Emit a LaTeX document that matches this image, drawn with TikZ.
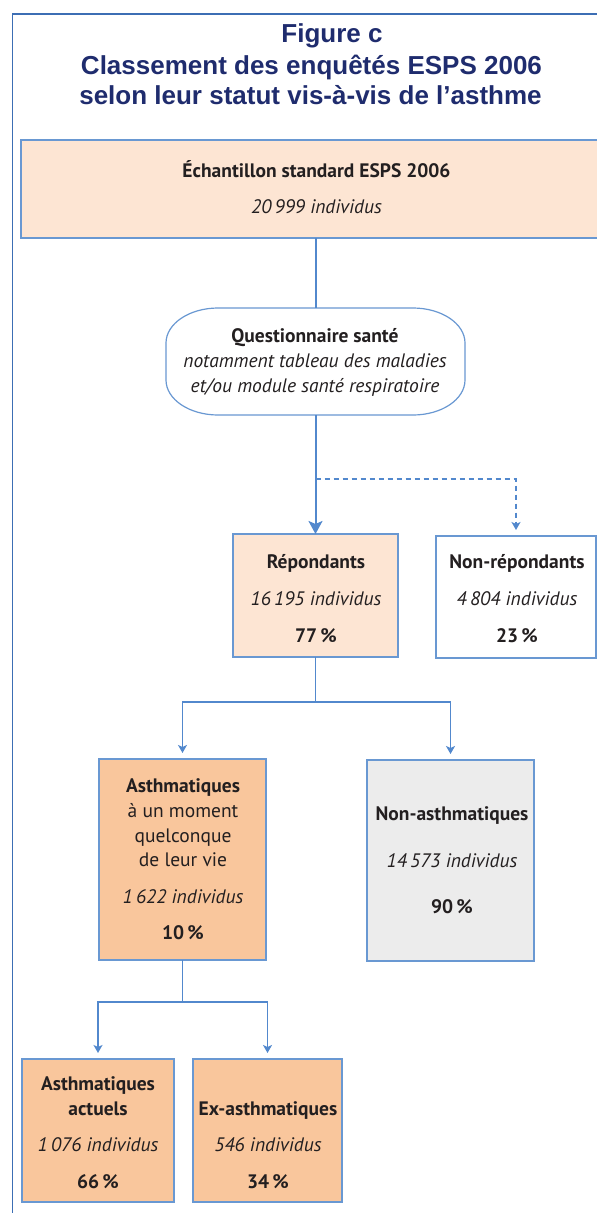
\documentclass[tikz,border=0pt]{standalone}
\usepackage{fontspec}
\setmainfont{PT Sans}
\newfontfamily\titlefont{Liberation Sans}
\usetikzlibrary{arrows.meta}
\definecolor{navy}{RGB}{31,44,110}
\definecolor{framec}{RGB}{60,110,180}
\definecolor{boxc}{RGB}{105,152,210}
\definecolor{connc}{RGB}{82,136,205}
\definecolor{peach}{RGB}{253,229,211}
\definecolor{orangec}{RGB}{249,198,156}
\definecolor{grayc}{RGB}{236,236,236}
\definecolor{txt}{RGB}{35,31,32}
\newcommand{\bodysize}{\fontsize{19.5}{23}\selectfont}
\tikzset{
  boxnode/.style={rectangle, draw=boxc, line width=1.2pt, inner sep=0pt, outer sep=0pt},
  ttl/.style={anchor=base, text=navy, font=\titlefont\bfseries\fontsize{26}{30}\selectfont, inner sep=0pt},
  tb/.style={anchor=base, text=txt, font=\bodysize\bfseries, inner sep=0pt},
  tr/.style={anchor=base, text=txt, font=\bodysize, inner sep=0pt},
  ti/.style={anchor=base, text=txt, font=\bodysize\itshape, inner sep=0pt},
  mainconn/.style={draw=connc, line width=2pt},
  subconn/.style={draw=connc, line width=1.7pt},
  bigtip/.style={-{Stealth[width=14pt,length=13pt,inset=3pt]}},
  smalltip/.style={-{Stealth[width=9pt,length=8pt,inset=2pt]}, shorten >=6pt},
  dashconn/.style={draw=connc, line width=1.2pt, dash pattern=on 5pt off 4pt},
}
\begin{document}
\begin{tikzpicture}[x=1pt,y=-1pt]
\clip (0,0) rectangle (597,1213);
\fill[white] (0,0) rectangle (597,1213);
% frame
\draw[framec, line width=1.5pt] (12.3,14) rectangle (700,1300);
% title
\node[ttl] (t1) at (332,42) {Figure c};
\node[ttl] (t2) at (311.5,74) {Classement des enquêtés ESPS 2006};
\node[ttl] (t3) at (310.5,104) {selon leur statut vis-à-vis de l’asthme};
% boxes
\node[boxnode, fill=peach, minimum width=619pt, minimum height=98pt] (ech) at (330.5,189) {};
\node[rectangle, inner sep=0pt, outer sep=0pt, minimum width=299pt, minimum height=107pt] (quest) at (315.5,361.5) {};
\draw[boxc, line width=1.2pt, fill=white]
  (218,308) -- (413,308) .. controls (441.7,308) and (465,323.7) .. (465,343)
  -- (465,380) .. controls (465,399.3) and (441.7,415) .. (413,415)
  -- (218,415) .. controls (189.3,415) and (166,399.3) .. (166,380)
  -- (166,343) .. controls (166,323.7) and (189.3,308) .. (218,308) -- cycle;
\node[boxnode, fill=peach, minimum width=165pt, minimum height=123pt] (resp) at (315.5,595.5) {};
\node[boxnode, fill=white, minimum width=160pt, minimum height=122pt] (nonresp) at (516,597) {};
\node[boxnode, fill=orangec, minimum width=167pt, minimum height=201pt] (asth) at (182.5,859.5) {};
\node[boxnode, fill=grayc, minimum width=167pt, minimum height=201pt] (nonasth) at (450.5,860.5) {};
\node[boxnode, fill=orangec, minimum width=152pt, minimum height=143pt] (cur) at (98,1130.5) {};
\node[boxnode, fill=orangec, minimum width=149pt, minimum height=143pt] (ex) at (267.5,1130.5) {};
% texts
\node[tb] (ech1) at (316.5,177) {Échantillon standard ESPS 2006};
\node[ti] (ech2) at (316.5,213) {20\,999 individus};
\node[tb] (q1) at (315,342) {Questionnaire santé};
\node[ti] (q2) at (315,367) {notamment tableau des maladies};
\node[ti] (q3) at (315,392) {et/ou module santé respiratoire};
\node[tb] (r1) at (316,568) {Répondants};
\node[ti] (r2) at (316,605) {16\,195 individus};
\node[tb] (r3) at (316,642) {77\,\%};
\node[tb] (n1) at (517,568) {Non-répondants};
\node[ti] (n2) at (517,605) {4\,804 individus};
\node[tb] (n3) at (517,642) {23\,\%};
\node[tb] (a1) at (183,792) {Asthmatiques};
\node[tr] (a2) at (183,817) {à un moment};
\node[tr] (a3) at (183,842) {quelconque};
\node[tr] (a4) at (183,866) {de leur vie};
\node[ti] (a5) at (183,903) {1\,622 individus};
\node[tb] (a6) at (183,939) {10\,\%};
\node[tb] (na1) at (452,820) {Non-asthmatiques};
\node[ti] (na2) at (452,867) {14\,573 individus};
\node[tb] (na3) at (452,913) {90\,\%};
\node[tb] (c1) at (98,1090) {Asthmatiques};
\node[tb] (c2) at (98,1115) {actuels};
\node[ti] (c3) at (98,1151) {1\,076 individus};
\node[tb] (c4) at (98,1188) {66\,\%};
\node[tb] (e1) at (268,1115) {Ex-asthmatiques};
\node[ti] (e2) at (268,1151) {546 individus};
\node[tb] (e3) at (268,1188) {34\,\%};
% connectors
\draw[mainconn] (ech.south -| quest.north) -- (quest.north);
\draw[mainconn, bigtip] (quest.south) -- (resp.north);
\coordinate (s1) at (315.5,479);
\draw[dashconn, smalltip] (s1) -| (nonresp.north);
\coordinate (s2) at (315.5,702);
\draw[subconn] (resp.south) -- (s2);
\draw[subconn, smalltip] (s2) -| (asth.north);
\draw[subconn, smalltip] (s2) -| (nonasth.north);
\coordinate (s3) at (182.5,1002);
\draw[subconn] (asth.south) -- (s3);
\draw[subconn, smalltip] (s3) -| (cur.north);
\draw[subconn, smalltip] (s3) -| (ex.north);
\end{tikzpicture}
\end{document}
